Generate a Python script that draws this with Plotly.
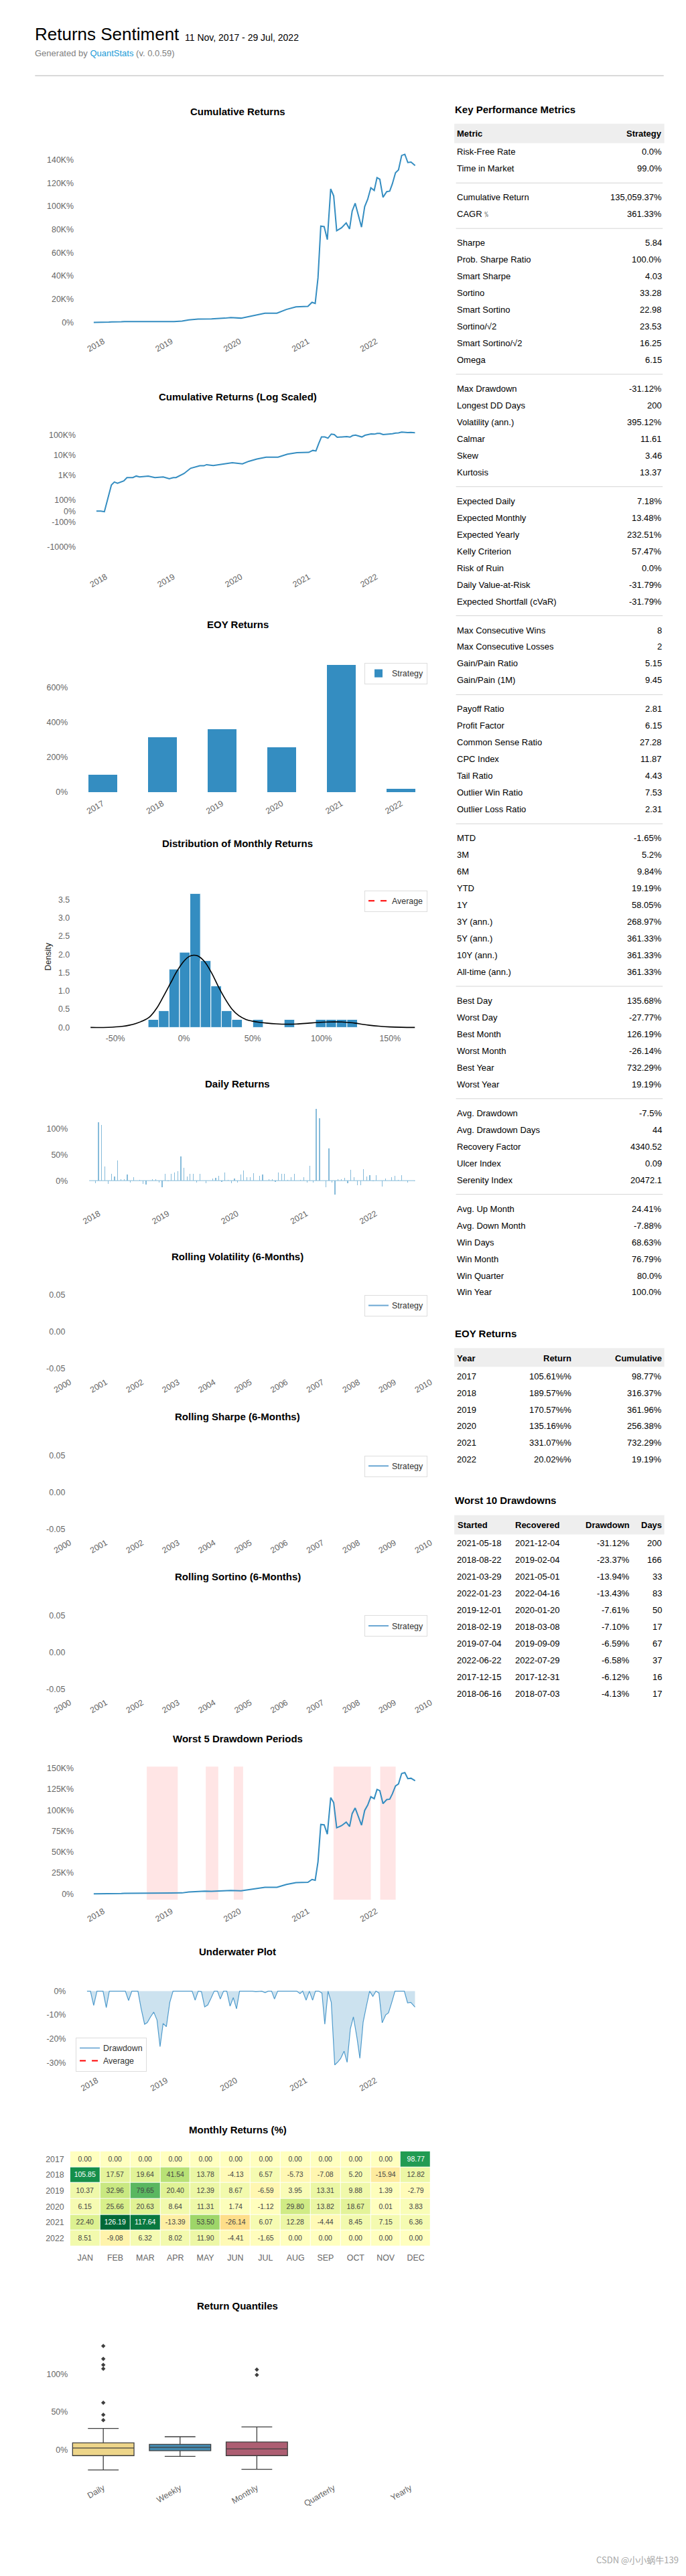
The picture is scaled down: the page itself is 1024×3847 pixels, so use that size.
import numpy as np
import pandas as pd
import plotly.graph_objects as go

W, H = 1024, 3847
FONT = "Liberation Sans, Arial, Helvetica, sans-serif"
BLUE = "#348dc1"
GREY = "#666666"

# ---------------- header ----------------
report_title = "Returns Sentiment"
report_period = "11 Nov, 2017 - 29 Jul, 2022"
report_version = "0.0.59"
period_start = "2017-11-11"
period_end = "2022-07-29"

# ---------------- cumulative returns (%) ----------------
cum_dates = ["2017-11-11", "2017-12-05", "2017-12-24", "2018-01-31", "2018-02-16", "2018-03-05",
             "2018-04-08", "2018-04-25", "2018-05-27", "2018-06-14", "2018-07-02", "2018-08-18",
             "2018-09-23", "2018-11-07", "2018-12-10", "2019-01-01", "2019-01-15", "2019-02-27",
             "2019-04-04", "2019-05-24", "2019-06-15", "2019-06-29", "2019-08-04", "2019-10-15",
             "2019-11-15", "2020-01-09", "2020-02-12", "2020-03-27", "2020-05-16", "2020-07-19",
             "2020-09-08", "2020-10-29", "2021-01-01", "2021-01-23", "2021-02-09", "2021-02-24",
             "2021-03-11", "2021-03-29", "2021-04-15", "2021-05-03", "2021-05-19", "2021-06-04",
             "2021-06-30", "2021-07-25", "2021-08-12", "2021-08-26", "2021-09-11", "2021-10-15",
             "2021-11-01", "2021-11-17", "2021-12-04", "2021-12-22", "2022-01-06", "2022-01-21",
             "2022-02-07", "2022-02-27", "2022-03-15", "2022-03-29", "2022-04-15", "2022-05-01",
             "2022-05-18", "2022-06-04", "2022-06-20", "2022-07-07", "2022-07-29"]
cum_values = [0, 0, -6, 316, 444, 389,
              507, 745, 745, 892, 805, 892,
              745, 805, 653, 745, 745, 1190,
              2190, 2920, 2920, 3320, 3000, 3680,
              4180, 3680, 4900, 6350, 7960, 7960,
              11200, 13400, 13800, 17300, 16300, 38400,
              82900, 82500, 71300, 115000, 109000, 79000,
              81500, 85700, 80500, 95900, 102600, 82100,
              99700, 106000, 116000, 113700, 124700, 123300,
              107800, 112600, 113100, 119300, 128900, 131400,
              143800, 144800, 137700, 138100, 135059]

# ---------------- EOY returns (%) ----------------
eoy_years = ["2017", "2018", "2019", "2020", "2021", "2022"]
eoy_values = [98.77, 316.37, 361.96, 256.38, 732.29, 19.19]

# ---------------- distribution of monthly returns ----------------
hist_edges = [-26.14, -18.52, -10.91, -3.29, 4.33, 11.94, 19.56, 27.18, 34.79, 42.41, 50.03,
              57.64, 65.26, 72.88, 80.49, 88.11, 95.73, 103.34, 110.96, 118.57, 126.19]
hist_density = [0.22, 0.46, 1.60, 2.06, 3.67, 1.83, 1.14, 0.46, 0.22, 0.0,
                0.22, 0.0, 0.0, 0.22, 0.0, 0.0, 0.22, 0.22, 0.22, 0.22]
kde_x = [-68, -55, -45, -40, -35, -30, -25, -20, -15, -10, -5, 0, 4, 7, 10, 15, 20, 25, 30, 35,
         40, 45, 50, 55, 60, 67, 75, 82, 90, 97, 105, 110, 115, 120, 125, 130, 135, 142, 150, 158, 168]
kde_y = [0.0, 0.004, 0.03, 0.06, 0.11, 0.18, 0.29, 0.52, 0.85, 1.20, 1.55, 1.82, 1.95, 1.98, 1.96,
         1.80, 1.50, 1.12, 0.78, 0.50, 0.32, 0.22, 0.17, 0.14, 0.12, 0.10, 0.09, 0.095, 0.115, 0.135,
         0.15, 0.152, 0.15, 0.135, 0.115, 0.085, 0.06, 0.035, 0.015, 0.005, 0.0]

# ---------------- daily returns (%) ----------------
daily_dates = ["2017-12-15", "2017-12-30", "2018-01-16", "2018-02-02", "2018-02-19", "2018-03-08",
               "2018-03-25", "2018-04-10", "2018-04-27", "2018-05-14", "2018-05-31", "2018-06-17",
               "2018-07-04", "2018-08-05", "2018-08-22", "2018-09-07", "2018-10-11", "2018-10-28",
               "2018-11-14", "2018-12-01", "2018-12-16", "2019-01-02", "2019-01-19", "2019-02-04",
               "2019-02-21", "2019-03-10", "2019-03-27", "2019-04-13", "2019-04-28", "2019-05-15",
               "2019-06-01", "2019-06-18", "2019-07-22", "2019-08-24", "2019-09-10", "2019-09-25",
               "2019-10-12", "2019-10-29", "2019-11-15", "2019-12-01", "2019-12-18", "2020-01-04",
               "2020-01-20", "2020-02-05", "2020-02-22", "2020-03-10", "2020-03-27", "2020-04-29",
               "2020-05-15", "2020-06-18", "2020-07-04", "2020-07-21", "2020-08-07", "2020-08-24",
               "2020-09-08", "2020-09-25", "2020-10-12", "2020-10-29", "2020-12-01", "2020-12-18",
               "2021-01-04", "2021-01-19", "2021-02-05", "2021-02-22", "2021-03-11", "2021-04-13",
               "2021-04-30", "2021-05-17", "2021-06-01", "2021-06-18", "2021-07-05", "2021-07-22",
               "2021-08-07", "2021-08-24", "2021-09-10", "2021-09-27", "2021-10-14", "2021-10-29",
               "2021-11-15", "2021-12-02", "2021-12-19", "2022-01-04", "2022-02-06", "2022-02-23",
               "2022-03-28", "2022-04-14", "2022-05-01", "2022-05-18", "2022-06-20", "2022-07-24"]
daily_values = [-5, 112, 107, 27, -6, 13,
                8, 39, 3, 3, 12, -3.5,
                7, 1.5, -6, -7, 3, 3,
                -3.5, -12, 13, -1, 13, 15,
                18, 46, 25, 8, 13, 13,
                -3.5, 13, -5, 4, 5.5, 9,
                -2, 15, 1, -5, 4.5, -3.5,
                12, 20, 6.5, 7, 14, 9,
                12, 3, 3, -2.5, 16, 13,
                13, 1.5, 6.5, 13, 1, 6,
                -3.5, 28, -3.5, 137, 120, -12,
                62, -3.5, -27, 3, 3, 5,
                -5, 21, 7, -9, -9, 22,
                8, 10, -1, 11, -11, 4.5,
                6.5, 9, 1.5, 11, -4, -1]

# ---------------- worst 5 drawdown periods ----------------
dd_period_start = ["2018-08-22", "2019-07-04", "2019-12-01", "2021-05-18", "2022-01-23"]
dd_period_end = ["2019-02-04", "2019-09-09", "2020-01-20", "2021-12-04", "2022-04-16"]

# ---------------- underwater (%) ----------------
uw_dates = ["2017-11-11", "2017-11-29", "2017-12-16", "2018-01-02", "2018-02-03", "2018-02-20",
            "2018-03-08", "2018-05-31", "2018-06-17", "2018-07-04", "2018-08-05", "2018-08-22",
            "2018-09-09", "2018-09-23", "2018-10-10", "2018-10-27", "2018-11-13", "2018-11-29",
            "2018-12-15", "2019-01-01", "2019-01-19", "2019-02-05", "2019-05-16", "2019-06-01",
            "2019-06-17", "2019-07-04", "2019-07-21", "2019-08-06", "2019-08-23", "2019-09-09",
            "2019-09-26", "2019-10-11", "2019-10-28", "2019-11-14", "2019-12-01", "2019-12-18",
            "2020-01-04", "2020-01-20", "2020-03-28", "2020-04-14", "2020-05-15", "2020-06-02",
            "2020-06-18", "2020-07-06", "2020-07-21", "2020-08-07", "2020-11-15", "2020-12-02",
            "2020-12-16", "2021-01-03", "2021-01-20", "2021-02-06", "2021-02-21", "2021-03-10",
            "2021-03-27", "2021-04-11", "2021-04-28", "2021-05-15", "2021-06-02", "2021-06-19",
            "2021-07-03", "2021-07-21", "2021-08-06", "2021-08-23", "2021-09-08", "2021-09-27",
            "2021-10-12", "2021-10-29", "2021-11-15", "2021-12-02", "2021-12-19", "2022-01-04",
            "2022-01-20", "2022-02-06", "2022-02-24", "2022-03-11", "2022-03-28", "2022-04-14",
            "2022-06-02", "2022-06-19", "2022-07-06", "2022-07-28"]
uw_values = [0, 0, -6.0, 0, 0, -6.9,
             0, 0, -3.9, 0, 0, -7.4,
             -13.9, -13.2, -10.8, -8.8, -12.1, -23.3,
             -13.6, -14.9, -4.7, 0, 0, -3.8,
             0, -0.2, -6.6, -5.8, -3.0, 0,
             0, -3.3, 0, 0, -6.3, -2.7,
             -7.4, 0, 0, -0.2, 0, -0.6,
             0, 0, -3.3, 0, 0, -1.0,
             0, -3.8, 0, -3.8, 0, 0,
             -0.8, -13.9, 0, -4.7, -31.0, -29.7,
             -28.3, -25.2, -29.9, -15.8, -10.8, -19.7,
             -28.2, -13.0, -6.3, 0, -2.2, 0,
             -0.8, -13.3, -10.0, -9.1, -4.7, 0,
             0, -4.9, -4.7, -6.7]

# ---------------- monthly returns heatmap (%) ----------------
heat_years = ["2017", "2018", "2019", "2020", "2021", "2022"]
heat_months = ["JAN", "FEB", "MAR", "APR", "MAY", "JUN", "JUL", "AUG", "SEP", "OCT", "NOV", "DEC"]
heat_2017 = [0, 0, 0, 0, 0, 0, 0, 0, 0, 0, 0, 98.77]
heat_2018 = [105.85, 17.57, 19.64, 41.54, 13.78, -4.13, 6.57, -5.73, -7.08, 5.20, -15.94, 12.82]
heat_2019 = [10.37, 32.96, 79.65, 20.40, 12.39, 8.67, -6.59, 3.95, 13.31, 9.88, 1.39, -2.79]
heat_2020 = [6.15, 25.66, 20.63, 8.64, 11.31, 1.74, -1.12, 29.80, 13.82, 18.67, 0.01, 3.83]
heat_2021 = [22.40, 126.19, 117.64, -13.39, 53.50, -26.14, 6.07, 12.28, -4.44, 8.45, 7.15, 6.36]
heat_2022 = [8.51, -9.08, 6.32, 8.02, 11.90, -4.41, -1.65, 0, 0, 0, 0, 0]

# ---------------- return quantiles (%) ----------------
quant_cats = ["Daily", "Weekly", "Monthly", "Quarterly", "Yearly"]
quant_box_cats = ["Daily", "Weekly", "Monthly"]
quant_q1 = [-8.0, -1.5, -8.0]
quant_median = [2.0, 3.0, 1.0]
quant_q3 = [9.0, 7.0, 10.0]
quant_low = [-27.0, -9.0, -26.1]
quant_high = [28.0, 17.0, 30.0]
quant_out_daily = [39, 46, 62, 107, 112, 120, 137]
quant_out_monthly = [98.77, 105.85]
quant_colors = ["#edd589", "#458aaf", "#ad5e72"]

# ---------------- metrics table ----------------
metric_names = ["Risk-Free Rate", "Time in Market",
                "Cumulative Return", "CAGR﹪",
                "Sharpe", "Prob. Sharpe Ratio", "Smart Sharpe", "Sortino", "Smart Sortino",
                "Sortino/√2", "Smart Sortino/√2", "Omega",
                "Max Drawdown", "Longest DD Days", "Volatility (ann.)", "Calmar", "Skew", "Kurtosis",
                "Expected Daily", "Expected Monthly", "Expected Yearly", "Kelly Criterion",
                "Risk of Ruin", "Daily Value-at-Risk", "Expected Shortfall (cVaR)",
                "Max Consecutive Wins", "Max Consecutive Losses", "Gain/Pain Ratio", "Gain/Pain (1M)",
                "Payoff Ratio", "Profit Factor", "Common Sense Ratio", "CPC Index", "Tail Ratio",
                "Outlier Win Ratio", "Outlier Loss Ratio",
                "MTD", "3M", "6M", "YTD", "1Y", "3Y (ann.)", "5Y (ann.)", "10Y (ann.)", "All-time (ann.)",
                "Best Day", "Worst Day", "Best Month", "Worst Month", "Best Year", "Worst Year",
                "Avg. Drawdown", "Avg. Drawdown Days", "Recovery Factor", "Ulcer Index", "Serenity Index",
                "Avg. Up Month", "Avg. Down Month", "Win Days", "Win Month", "Win Quarter", "Win Year"]
metric_values = ["0.0%", "99.0%",
                 "135,059.37%", "361.33%",
                 "5.84", "100.0%", "4.03", "33.28", "22.98", "23.53", "16.25", "6.15",
                 "-31.12%", "200", "395.12%", "11.61", "3.46", "13.37",
                 "7.18%", "13.48%", "232.51%", "57.47%", "0.0%", "-31.79%", "-31.79%",
                 "8", "2", "5.15", "9.45",
                 "2.81", "6.15", "27.28", "11.87", "4.43", "7.53", "2.31",
                 "-1.65%", "5.2%", "9.84%", "19.19%", "58.05%", "268.97%", "361.33%", "361.33%", "361.33%",
                 "135.68%", "-27.77%", "126.19%", "-26.14%", "732.29%", "19.19%",
                 "-7.5%", "44", "4340.52", "0.09", "20472.1",
                 "24.41%", "-7.88%", "68.63%", "76.79%", "80.0%", "100.0%"]
metric_groups = [2, 2, 8, 6, 7, 4, 7, 9, 6, 5, 6]

# ---------------- EOY table ----------------
eoyt_years = ["2017", "2018", "2019", "2020", "2021", "2022"]
eoyt_return = ["105.61%%", "189.57%%", "170.57%%", "135.16%%", "331.07%%", "20.02%%"]
eoyt_cumulative = ["98.77%", "316.37%", "361.96%", "256.38%", "732.29%", "19.19%"]

# ---------------- worst 10 drawdowns table ----------------
ddt_started = ["2021-05-18", "2018-08-22", "2021-03-29", "2022-01-23", "2019-12-01",
               "2018-02-19", "2019-07-04", "2022-06-22", "2017-12-15", "2018-06-16"]
ddt_recovered = ["2021-12-04", "2019-02-04", "2021-05-01", "2022-04-16", "2020-01-20",
                 "2018-03-08", "2019-09-09", "2022-07-29", "2017-12-31", "2018-07-03"]
ddt_drawdown = ["-31.12%", "-23.37%", "-13.94%", "-13.43%", "-7.61%",
                "-7.10%", "-6.59%", "-6.58%", "-6.12%", "-4.13%"]
ddt_days = ["200", "166", "33", "83", "50", "17", "67", "37", "16", "17"]

watermark = "CSDN @小小蜗牛139"

# =====================================================================
fig = go.Figure()
ann, shapes, layout_axes = [], [], {}


def px(x):
    return x / W


def py(y):
    return 1 - y / H


def text(x, y, s, size=13, color="#000000", bold=False, xanchor="left", yanchor="middle", family=FONT, angle=0):
    if bold:
        s = f"<b>{s}</b>"
    ann.append(dict(x=px(x), y=py(y), xref="paper", yref="paper", text=s, showarrow=False,
                    xanchor=xanchor, yanchor=yanchor, textangle=angle,
                    font=dict(size=size, color=color, family=family)))


def hline(x0, x1, y, color="#d4d4d4", width=1):
    shapes.append(dict(type="line", xref="paper", yref="paper", x0=px(x0), x1=px(x1), y0=py(y), y1=py(y),
                       line=dict(color=color, width=width)))


def rect(x0, x1, y0, y1, color):
    shapes.append(dict(type="rect", xref="paper", yref="paper", x0=px(x0), x1=px(x1), y0=py(y1), y1=py(y0),
                       fillcolor=color, line=dict(width=0), layer="below"))


def lin(p0, p1, va, pa, vb, pb):
    k = (vb - va) / (pb - pa)
    return [va + (p0 - pa) * k, va + (p1 - pa) * k]


def drange(x0, x1, anchor_date, anchor_px, ppd):
    a = pd.Timestamp(anchor_date)
    return [str(a + pd.Timedelta(days=(x0 - anchor_px) / ppd)), str(a + pd.Timedelta(days=(x1 - anchor_px) / ppd))]


TICKF = dict(size=12.4, color=GREY, family=FONT)


def axes(n, xd, yd, xa, ya):
    sx = "" if n == 1 else str(n)
    base = dict(showgrid=False, zeroline=False, showline=False, ticks="", tickfont=TICKF, fixedrange=True)
    layout_axes["xaxis" + sx] = dict(base, domain=[px(xd[0]), px(xd[1])], anchor="y" + sx, **xa)
    layout_axes["yaxis" + sx] = dict(base, domain=[py(yd[1]), py(yd[0])], anchor="x" + sx, **ya)


def chart_title(y, s):
    text(342, y, s, size=15, bold=True, xanchor="center")


year_ticks = ["2018-01-01", "2019-01-01", "2020-01-01", "2021-01-01", "2022-01-01"]
year_text = ["2018", "2019", "2020", "2021", "2022"]
date_x = dict(type="date", tickvals=year_ticks, ticktext=year_text, tickangle=-30)

# ---------------- header ----------------
text(31, 47.5, report_title, size=26, color="#000")
text(259, 52.5, report_period, size=14, color="#000")
text(31, 76, f"Generated by <span style='color:#1a9bd7'>QuantStats</span> (v. {report_version})",
     size=13, color="#808080")
hline(33, 991, 109, color="#cccccc", width=1.5)

# ---------------- 1: cumulative returns ----------------
chart_title(163, "Cumulative Returns")
axes(1, (93, 636), (220, 496),
     dict(date_x, range=drange(93, 636, period_start, 122.4, 0.2846)),
     dict(range=lin(496, 220, 0, 478, 140000, 235), tickvals=[0, 20000, 40000, 60000, 80000, 100000, 120000, 140000],
          ticktext=["0%", "20K%", "40K%", "60K%", "80K%", "100K%", "120K%", "140K%"]))
fig.add_trace(go.Scatter(x=cum_dates, y=cum_values, mode="lines", line=dict(color=BLUE, width=2),
                         xaxis="x", yaxis="y", showlegend=False))

# ---------------- 2: cumulative (log scaled, symlog) ----------------
def symlog(v, thr=2.0):
    adj = 1.0 / (1.0 - 1.0 / 10.0)
    v = np.asarray(v, dtype=float)
    out = np.sign(v) * thr * (adj + np.log10(np.maximum(np.abs(v), 1e-12) / thr))
    inside = np.abs(v) <= thr
    out[inside] = v[inside] * adj
    return out


chart_title(589, "Cumulative Returns (Log Scaled)")
log_ticks = [-10, -1, 0, 1, 10, 100, 1000]
axes(2, (96, 636), (625, 848),
     dict(date_x, range=drange(96, 636, period_start, 126.5, 0.2821)),
     dict(range=lin(848, 625, 0, 760, 1, 760 - 14.87), tickvals=list(symlog(log_ticks)),
          ticktext=["-1000%", "-100%", "0%", "100%", "1K%", "10K%", "100K%"]))
fig.add_trace(go.Scatter(x=cum_dates, y=symlog(np.array(cum_values) / 100.0), mode="lines",
                         line=dict(color=BLUE, width=2), xaxis="x2", yaxis="y2", showlegend=False))

# ---------------- 3: EOY returns ----------------
chart_title(929, "EOY Returns")
axes(3, (84, 636), (985, 1187),
     dict(type="category", range=lin(84, 636, 0, 136, 1, 227), tickangle=-30),
     dict(range=lin(1187, 985, 0, 1180, 600, 1024), tickvals=[0, 200, 400, 600],
          ticktext=["0%", "200%", "400%", "600%"]))
fig.add_trace(go.Bar(x=eoy_years, y=eoy_values, width=0.48, marker=dict(color=BLUE, line=dict(width=0)),
                     name="Strategy", xaxis="x3", yaxis="y3", legend="legend2"))

# ---------------- 4: distribution of monthly returns ----------------
chart_title(1257, "Distribution of Monthly Returns")
edges = np.array(hist_edges)
axes(4, (87, 636), (1325, 1539),
     dict(range=lin(87, 636, 0, 260, 50, 364.7), tickvals=[-50, 0, 50, 100, 150],
          ticktext=["-50%", "0%", "50%", "100%", "150%"]),
     dict(range=lin(1539, 1325, 0, 1532, 3.5, 1341), tickvals=[0, 0.5, 1, 1.5, 2, 2.5, 3, 3.5], tickformat=".1f"))
fig.add_trace(go.Bar(x=(edges[:-1] + edges[1:]) / 2, y=hist_density, width=np.diff(edges),
                     marker=dict(color=BLUE, line=dict(color="white", width=1)),
                     xaxis="x4", yaxis="y4", showlegend=False))
fig.add_trace(go.Scatter(x=kde_x, y=kde_y, mode="lines", line=dict(color="black", width=1.6, shape="spline"),
                         xaxis="x4", yaxis="y4", showlegend=False))
fig.add_trace(go.Scatter(x=[None], y=[None], mode="lines", name="Average",
                         line=dict(color="red", width=2, dash="dash"), xaxis="x4", yaxis="y4", legend="legend3"))
text(53, 1426, "Density", size=12.4, color="#222", xanchor="center", angle=-90)

# ---------------- 5: daily returns ----------------
chart_title(1616, "Daily Returns")
axes(5, (84, 636), (1648, 1800),
     dict(date_x, range=drange(84, 636, period_start, 115.5, 0.2886)),
     dict(range=lin(1800, 1648, 0, 1761, 100, 1683), tickvals=[0, 50, 100], ticktext=["0%", "50%", "100%"]))
fig.add_trace(go.Scatter(x=[period_start, period_end], y=[0, 0], mode="lines",
                         line=dict(color="#86bbda", width=1), xaxis="x5", yaxis="y5", showlegend=False))
fig.add_trace(go.Bar(x=daily_dates, y=daily_values, width=4.5 * 86400000,
                     marker=dict(color="#86bbda", line=dict(width=0)), xaxis="x5", yaxis="y5", showlegend=False))

# ---------------- 6-8: rolling (empty) ----------------
roll_ticks = [f"{y}-01-01" for y in range(2000, 2011)]
roll_text = [str(y) for y in range(2000, 2011)]
for n, title, ty, leg_name in [(6, "Rolling Volatility (6-Months)", 1874, "legend4"),
                               (7, "Rolling Sharpe (6-Months)", 2114, "legend5"),
                               (8, "Rolling Sortino (6-Months)", 2353, "legend6")]:
    top_tick = ty + 58
    zero = top_tick + 55
    y0, y1 = top_tick - 6, zero + 55 + 10
    chart_title(ty, title)
    axes(n, (80, 640), (y0, y1),
         dict(type="date", tickvals=roll_ticks, ticktext=roll_text, tickangle=-30,
              range=drange(80, 640, "2000-01-01", 86, 550 / 3653)),
         dict(range=lin(y1, y0, 0, zero, 0.05, top_tick), tickvals=[-0.05, 0, 0.05],
              ticktext=["-0.05", "0.00", "0.05"]))
    fig.add_trace(go.Scatter(x=[None], y=[None], mode="lines", name="Strategy", line=dict(color="#6aa7d3", width=2),
                             xaxis=f"x{n}", yaxis=f"y{n}", legend=leg_name))

# ---------------- 9: worst 5 drawdown periods ----------------
chart_title(2595, "Worst 5 Drawdown Periods")
axes(9, (93, 636), (2637, 2843),
     dict(date_x, range=drange(93, 636, period_start, 122.4, 0.2846)),
     dict(range=lin(2843, 2637, 0, 2827.3, 150000, 2639.5),
          tickvals=[0, 25000, 50000, 75000, 100000, 125000, 150000],
          ticktext=["0%", "25K%", "50K%", "75K%", "100K%", "125K%", "150K%"]))
for s, e in zip(dd_period_start, dd_period_end):
    shapes.append(dict(type="rect", xref="x9", yref="y9 domain", x0=s, x1=e, y0=7 / 206, y1=1,
                       fillcolor="rgba(255,0,0,0.1)", line=dict(width=0), layer="below"))
fig.add_trace(go.Scatter(x=cum_dates, y=cum_values, mode="lines", line=dict(color=BLUE, width=2),
                         xaxis="x9", yaxis="y9", showlegend=False))

# ---------------- 10: underwater ----------------
chart_title(2914, "Underwater Plot")
axes(10, (81, 636), (2965, 3096),
     dict(date_x, range=drange(81, 636, period_start, 112.2, 0.2906)),
     dict(range=lin(3096, 2965, 0, 2972.7, -30, 3079.4), tickvals=[-30, -20, -10, 0],
          ticktext=["-30%", "-20%", "-10%", "0%"]))
fig.add_trace(go.Scatter(x=uw_dates, y=uw_values, mode="lines", fill="tozeroy",
                         fillcolor="rgba(52,141,193,0.25)", line=dict(color="#4f9bcc", width=1.2),
                         xaxis="x10", yaxis="y10", showlegend=False))
fig.add_trace(go.Scatter(x=[None], y=[None], mode="lines", name="Drawdown", line=dict(color="#7fb3da", width=2),
                         xaxis="x10", yaxis="y10", legend="legend7"))
fig.add_trace(go.Scatter(x=[None], y=[None], mode="lines", name="Average",
                         line=dict(color="red", width=2, dash="dash"), xaxis="x10", yaxis="y10", legend="legend7"))

# ---------------- 11: monthly returns heatmap ----------------
chart_title(3180, "Monthly Returns (%)")
heat_z = [heat_2017, heat_2018, heat_2019, heat_2020, heat_2021, heat_2022]
zabs = float(np.max(np.abs(heat_z)))
axes(11, (86.5, 636), (3212, 3354),
     dict(type="category", range=[-0.5, 11.5], ticklabelstandoff=8),
     dict(type="category", range=[5.5, -0.5], ticklabelstandoff=8))
fig.add_trace(go.Heatmap(z=heat_z, x=heat_months, y=heat_years, colorscale="RdYlGn", zmin=-zabs, zmax=zabs,
                         showscale=False, xgap=1, ygap=1, texttemplate="%{z:.2f}",
                         textfont=dict(size=10.5, family=FONT), xaxis="x11", yaxis="y11", hoverinfo="skip"))

# ---------------- 12: return quantiles ----------------
chart_title(3443, "Return Quantiles")
axes(12, (84, 636), (3480, 3705),
     dict(type="category", categoryorder="array", categoryarray=quant_cats, tickvals=quant_cats,
          range=lin(84, 636, 0, 137, 1, 254), tickangle=-30),
     dict(range=lin(3705, 3480, 0, 3658, 100, 3545), tickvals=[0, 50, 100], ticktext=["0%", "50%", "100%"]))
for i, c in enumerate(quant_box_cats):
    fig.add_trace(go.Box(x=[c], q1=[quant_q1[i]], median=[quant_median[i]], q3=[quant_q3[i]],
                         lowerfence=[quant_low[i]], upperfence=[quant_high[i]], width=0.8,
                         fillcolor=quant_colors[i], line=dict(color="#3f3f3f", width=1.3),
                         xaxis="x12", yaxis="y12", showlegend=False, boxpoints=False))
fig.add_trace(go.Scatter(x=["Daily"] * len(quant_out_daily) + ["Monthly"] * len(quant_out_monthly),
                         y=quant_out_daily + quant_out_monthly, mode="markers",
                         marker=dict(symbol="diamond", size=5, color="#3f3f3f"),
                         xaxis="x12", yaxis="y12", showlegend=False))

# ---------------- right column: key performance metrics ----------------
RX0, RX1, TX0, TX1 = 672, 992, 674.5, 989.5
text(RX0 - 1, 159.6, "Key Performance Metrics", size=15, bold=True)
rect(RX0, RX1, 181, 210, "#eeeeee")
text(TX0 - 1, 196, "Metric", size=13, bold=True)
text(TX1 + 1, 196, "Strategy", size=13, bold=True, xanchor="right")
y = 223
idx = 0
for gi, g in enumerate(metric_groups):
    for _ in range(g):
        text(TX0 - 1, y, metric_names[idx], size=13, color="#000")
        text(TX1 + 1, y, metric_values[idx], size=13, color="#000", xanchor="right")
        idx += 1
        y += 25
    if gi < len(metric_groups) - 1:
        hline(TX0, TX1, y - 25 + 21.5)
        y += 18

# EOY table
text(RX0 - 1, 1989.3, "EOY Returns", size=15, bold=True)
rect(RX0, RX1, 2011.4, 2039.3, "#eeeeee")
text(TX0 - 1, 2026.4, "Year", size=13, bold=True)
text(852.5, 2026.4, "Return", size=13, bold=True, xanchor="right")
text(TX1 + 1, 2026.4, "Cumulative", size=13, bold=True, xanchor="right")
for i in range(len(eoyt_years)):
    yy = 2053.2 + 25 * i
    text(TX0 - 1, yy, eoyt_years[i], size=13)
    text(852.5, yy, eoyt_return[i], size=13, xanchor="right")
    text(TX1 + 1, yy, eoyt_cumulative[i], size=13, xanchor="right")

# Worst 10 drawdowns table
text(RX0 - 1, 2239.3, "Worst 10 Drawdowns", size=15, bold=True)
rect(RX0, RX1, 2261, 2290, "#eeeeee")
text(TX0 + 0.5, 2276, "Started", size=13, bold=True)
text(762.5, 2276, "Recovered", size=13, bold=True)
text(941, 2276, "Drawdown", size=13, bold=True, xanchor="right")
text(TX1 + 1, 2276, "Days", size=13, bold=True, xanchor="right")
for i in range(len(ddt_started)):
    yy = 2303.3 + 25 * i
    text(TX0 - 1, yy, ddt_started[i], size=13)
    text(762.5, yy, ddt_recovered[i], size=13)
    text(941, yy, ddt_drawdown[i], size=13, xanchor="right")
    text(TX1 + 1, yy, ddt_days[i], size=13, xanchor="right")

# watermark
text(1016, 3822, watermark, size=13, color="#a6a6a6", xanchor="right",
     family="Noto Sans CJK SC, Liberation Sans, sans-serif")

# ---------------- legends ----------------
def legend_box(x, ytop, xanchor="left"):
    return dict(x=px(x), y=py(ytop), xref="paper", yref="paper", xanchor=xanchor, yanchor="top",
                bgcolor="white", bordercolor="#dddddd", borderwidth=1,
                font=dict(size=12.4, color="#333333", family=FONT), itemwidth=30, tracegroupgap=0)


fig.update_layout(
    width=W, height=H, autosize=False,
    margin=dict(l=0, r=0, t=0, b=0, pad=0),
    paper_bgcolor="white", plot_bgcolor="white",
    font=dict(family=FONT, color="#000"),
    annotations=ann, shapes=shapes, bargap=0, showlegend=True,
    legend2=legend_box(535, 987),
    legend3=legend_box(535, 1327),
    legend4=legend_box(535, 1874 + 58),
    legend5=legend_box(535, 2114 + 58),
    legend6=legend_box(535, 2353 + 58),
    legend7=legend_box(95, 3042),
    **layout_axes,
)

fig.write_html("out.html", include_plotlyjs=True, config={"displayModeBar": False, "staticPlot": True},
               post_script="document.body.style.margin='0';")
